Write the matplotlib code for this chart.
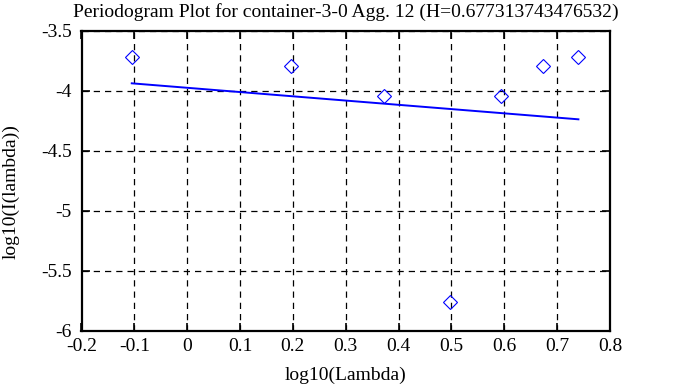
import matplotlib
matplotlib.use("Agg")
import matplotlib.pyplot as plt

log_lambda = [-0.1049, 0.1961, 0.3722, 0.4971, 0.5940, 0.6732, 0.7402]
log_I = [-3.719, -3.792, -4.042, -5.756, -4.042, -3.792, -3.714]
fit_x = [-0.1049, 0.7402]
fit_y = [-3.936, -4.236]

title = "Periodogram Plot for container-3-0 Agg. 12 (H=0.677313743476532)"
xticks = [-0.2, -0.1, 0, 0.1, 0.2, 0.3, 0.4, 0.5, 0.6, 0.7, 0.8]
xtick_labels = ["-0.2", "-0.1", "0", "0.1", "0.2", "0.3", "0.4", "0.5", "0.6", "0.7", "0.8"]
yticks = [-6, -5.5, -5, -4.5, -4, -3.5]
ytick_labels = ["-6", "-5.5", "-5", "-4.5", "-4", "-3.5"]

plt.rcParams['font.family'] = ['Liberation Serif', 'DejaVu Serif']
FS = 14
fig = plt.figure(figsize=(6.73, 3.87), dpi=100)
ax = fig.add_axes([81.5/673, 1 - 331/387, (610 - 81.5)/673, (331 - 31)/387])

ax.plot(log_lambda, log_I, linestyle='none', marker='D', markersize=7.5,
        markerfacecolor='none', markeredgecolor='#0000ff', markeredgewidth=0.8)
ax.plot(fit_x, fit_y, color='#0000ff', linewidth=1.4)

ax.set_xlim(-0.2, 0.8)
ax.set_ylim(-6, -3.5)
ax.set_xticks(xticks)
ax.set_xticklabels(xtick_labels)
ax.set_yticks(yticks)
ax.set_yticklabels(ytick_labels)
ax.tick_params(direction='in', length=6, width=1.2, top=True, right=True,
               labelsize=FS, colors='black')
ax.tick_params(axis='x', pad=5)
ax.tick_params(axis='y', pad=7)
ax.grid(True, color='black', linestyle=(0, (5, 4)), linewidth=0.9)
for s in ax.spines.values():
    s.set_linewidth(1.6)

fig.text(346/673, 1 - 12/387, title, ha='center', va='center', fontsize=FS)
ax.set_xlabel("log10(Lambda)", fontsize=FS, va='center')
ax.xaxis.set_label_coords(0.5, (331 - 375) / 300)
ax.set_ylabel("log10(I(lambda))", fontsize=FS, va='center')
ax.yaxis.set_label_coords((11 - 81.5) / 528.5, (331 - 191.5) / 300)

fig.savefig("out.png", dpi=100)
